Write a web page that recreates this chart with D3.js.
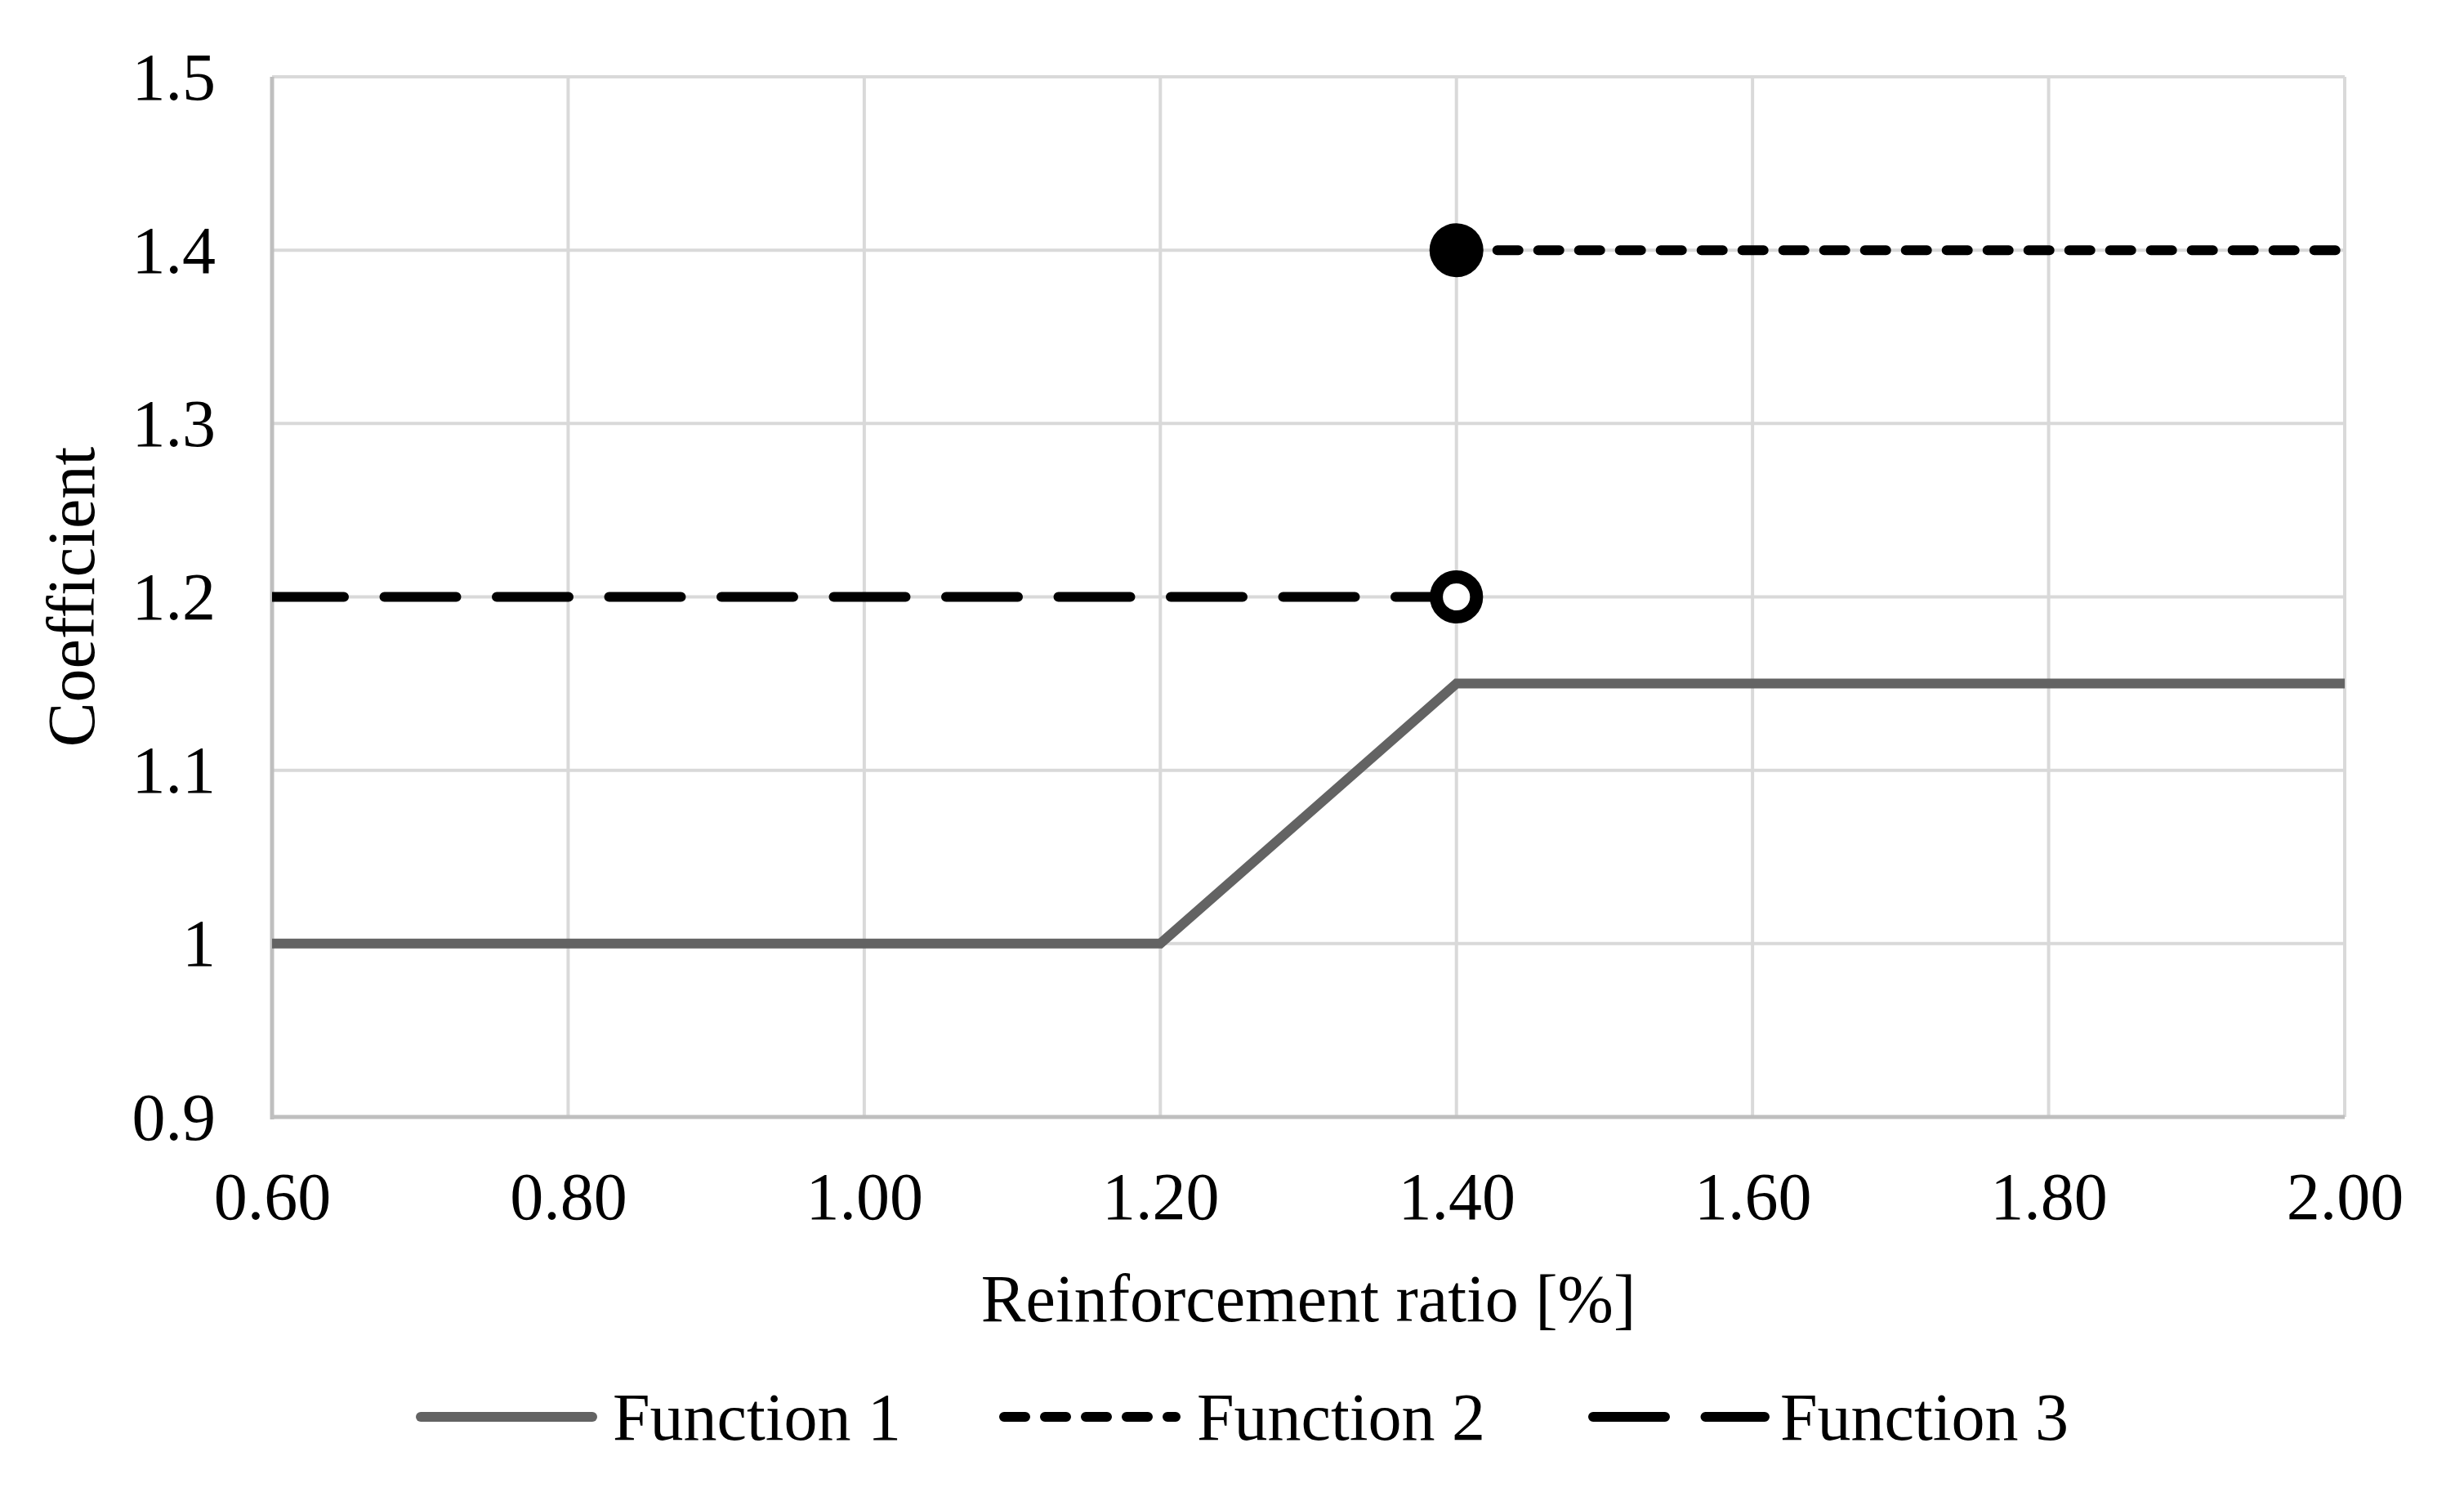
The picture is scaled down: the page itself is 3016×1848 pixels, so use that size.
<!DOCTYPE html>
<html>
<head>
<meta charset="utf-8">
<script src="https://cdn.jsdelivr.net/npm/d3@7"></script>
<style>
  html, body { margin: 0; padding: 0; background: #fff; }
  text { font-family: "Liberation Serif", "Times New Roman", serif; fill: #000; }
</style>
</head>
<body>
<svg id="chart" width="3016" height="1848"></svg>
<script>
// ---- data ----
const xTicks = [0.6, 0.8, 1.0, 1.2, 1.4, 1.6, 1.8, 2.0];
const xTickLabels = ["0.60", "0.80", "1.00", "1.20", "1.40", "1.60", "1.80", "2.00"];
const yTicks = [0.9, 1.0, 1.1, 1.2, 1.3, 1.4, 1.5];
const yTickLabels = ["0.9", "1", "1.1", "1.2", "1.3", "1.4", "1.5"];
const f1x = [0.6, 1.2, 1.4, 2.0];
const f1y = [1.0, 1.0, 1.15, 1.15];
const f2x = [1.4, 2.0];
const f2y = [1.4, 1.4];
const f3x = [0.6, 1.4];
const f3y = [1.2, 1.2];
const seriesNames = ["Function 1", "Function 2", "Function 3"];
const xTitle = "Reinforcement ratio [%]";
const yTitle = "Coefficient";

// ---- layout ----
const L = 333, R = 2870, T = 94, B = 1367;
const FS = 82;
const svg = d3.select("#chart");

const x = d3.scaleLinear().domain([0.6, 2.0]).range([L, R]);
const y = d3.scaleLinear().domain([0.9, 1.5]).range([B, T]);

svg.append("defs").append("clipPath").attr("id", "plotclip")
  .append("rect").attr("x", L).attr("y", T - 60).attr("width", R - L + 20).attr("height", B - T + 60);

// gridlines
const grid = svg.append("g");
grid.selectAll("line.h").data(yTicks).join("line")
  .attr("x1", L).attr("x2", R)
  .attr("y1", d => y(d)).attr("y2", d => y(d))
  .attr("stroke", "#d9d9d9").attr("stroke-width", 4);
grid.selectAll("line.v").data(xTicks).join("line")
  .attr("y1", T).attr("y2", B)
  .attr("x1", d => x(d)).attr("x2", d => x(d))
  .attr("stroke", "#d9d9d9").attr("stroke-width", 4);

// axes lines
svg.append("line").attr("x1", L).attr("x2", L).attr("y1", T).attr("y2", B + 3)
  .attr("stroke", "#bfbfbf").attr("stroke-width", 5);
svg.append("line").attr("x1", L - 2).attr("x2", R).attr("y1", B).attr("y2", B)
  .attr("stroke", "#bfbfbf").attr("stroke-width", 5);

// axis labels via d3 axes
const yAxis = d3.axisLeft(y).tickValues(yTicks).tickSize(0).tickPadding(69)
  .tickFormat((d, i) => yTickLabels[i]);
const gy = svg.append("g").attr("transform", `translate(${L},0)`).call(yAxis);
gy.select(".domain").remove();
gy.selectAll("text").style("font-family", '"Liberation Serif", serif')
  .style("font-size", FS + "px").attr("fill", "#000").attr("dy", "0.33em");

const xAxis = d3.axisBottom(x).tickValues(xTicks).tickSize(0).tickPadding(0)
  .tickFormat((d, i) => xTickLabels[i]);
const gx = svg.append("g").attr("transform", `translate(0,${B})`).call(xAxis);
gx.select(".domain").remove();
gx.selectAll("text").style("font-family", '"Liberation Serif", serif')
  .style("font-size", FS + "px").attr("fill", "#000").attr("y", 125).attr("dy", 0);

// titles
svg.append("text").attr("x", (L + R) / 2).attr("y", 1617)
  .attr("text-anchor", "middle").style("font-size", FS + "px").text(xTitle);
svg.append("text").attr("transform", `translate(115,${(T + B) / 2}) rotate(-90)`)
  .attr("text-anchor", "middle").style("font-size", FS + "px").text(yTitle);

// series
const line = d3.line().x(d => x(d[0])).y(d => y(d[1]));
const zip = (a, b) => a.map((v, i) => [v, b[i]]);
const styles = [
  { stroke: "#636363", dash: null, width: 12 },
  { stroke: "#000", dash: "26 24", width: 12 },
  { stroke: "#000", dash: "88 49.5", width: 12 }
];

const series = svg.append("g").attr("clip-path", "url(#plotclip)");
series.append("path").datum(zip(f1x, f1y)).attr("d", line)
  .attr("fill", "none").attr("stroke", styles[0].stroke).attr("stroke-width", styles[0].width)
  .attr("stroke-linejoin", "miter");

series.append("path").datum(zip(f2x, f2y)).attr("d", line)
  .attr("fill", "none").attr("stroke", styles[1].stroke).attr("stroke-width", styles[1].width)
  .attr("stroke-dasharray", styles[1].dash).attr("stroke-linecap", "round");

series.append("path").datum(zip(f3x, f3y)).attr("d", line)
  .attr("fill", "none").attr("stroke", styles[2].stroke).attr("stroke-width", styles[2].width)
  .attr("stroke-dasharray", styles[2].dash).attr("stroke-linecap", "round");

// markers
svg.append("circle").attr("cx", x(f2x[0])).attr("cy", y(f2y[0])).attr("r", 33)
  .attr("fill", "#000");
svg.append("circle").attr("cx", x(f3x[1])).attr("cy", y(f3y[1])).attr("r", 24.6)
  .attr("fill", "#fff").attr("stroke", "#000").attr("stroke-width", 16);

// legend
const legY = 1734;
const legItems = [
  { x0: 515, x1: 725, tx: 750 },
  { x0: 1229, x1: 1439, tx: 1465 },
  { x0: 1950, x1: 2160, tx: 2179 }
];
const lg = svg.append("g");
legItems.forEach((it, i) => {
  const s = styles[i];
  const l = lg.append("line").attr("x1", it.x0).attr("x2", it.x1)
    .attr("y1", legY).attr("y2", legY)
    .attr("stroke", s.stroke).attr("stroke-width", s.width).attr("stroke-linecap", "round");
  if (s.dash) l.attr("stroke-dasharray", s.dash);
  lg.append("text").attr("x", it.tx).attr("y", legY + 28)
    .style("font-size", FS + "px").text(seriesNames[i]);
});
</script>
</body>
</html>
